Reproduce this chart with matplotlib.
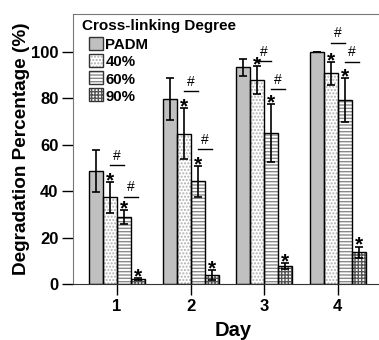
import matplotlib
matplotlib.use("Agg")
import matplotlib.pyplot as plt
import numpy as np
from matplotlib.patches import Rectangle

plt.rcParams['font.family'] = ['Liberation Sans', 'DejaVu Sans']
plt.rcParams['font.weight'] = 'bold'

days = [1, 2, 3, 4]
series = ['PADM', '40%', '60%', '90%']
padm = [48.8, 79.7, 93.5, 100.0]
padm_err = [9.0, 9.0, 3.7, 0.0]
p40 = [37.4, 64.8, 87.9, 90.8]
p40_err = [6.6, 11.0, 6.0, 5.0]
p60 = [28.7, 44.2, 65.0, 79.2]
p60_err = [3.0, 6.5, 12.5, 9.5]
p90 = [2.1, 3.9, 7.6, 13.6]
p90_err = [0.5, 2.1, 1.3, 2.5]
# significance '#' line heights (40% vs 60%, 60% vs 90%)
hash_40_60 = [51.3, 83.2, 96.1, 104.0]
hash_60_90 = [37.6, 58.2, 84.0, 95.8]

values = [padm, p40, p60, p90]
errors = [padm_err, p40_err, p60_err, p90_err]
face = ['#c0c0c0', 'white', 'white', 'white']
hatches = [None, '.....', '-----', '+++++']
hcolors = ['#c0c0c0', '#b0b0b0', '#8a8a8a', '#555555']

W, H = 379, 340
AX_L, AX_B, AX_W, AX_H = 73, 284, 320, 270
fig = plt.figure(figsize=(W/100, H/100), dpi=100)
ax = fig.add_axes([AX_L/W, 1-AX_B/H, AX_W/W, AX_H/H])

def axx(px):
    return (px - AX_L) / AX_W

def axy(py):
    return 1 - (py - (AX_B - AX_H)) / AX_H

w = 0.19
x = np.array(days, dtype=float)
for i in range(4):
    xs = x + (i - 1.5) * w
    ax.bar(xs, values[i], w, color=face[i], hatch=hatches[i],
           edgecolor=hcolors[i], linewidth=0, zorder=2)
    ax.bar(xs, values[i], w, fill=False, edgecolor='black',
           linewidth=1.0, zorder=3)
    ax.errorbar(xs, values[i], yerr=errors[i], fmt='none', ecolor='black',
                elinewidth=1.2, capsize=3, capthick=1.2, zorder=4)
    if i > 0:
        for xx, v, e in zip(xs, values[i], errors[i]):
            ax.text(xx, v + e - 1.8, '*', ha='center', va='baseline',
                    fontsize=15, fontweight='bold', zorder=5)

for j in range(4):
    for (a, b, h) in [(1, 2, hash_40_60[j]), (2, 3, hash_60_90[j])]:
        x0 = x[j] + (a - 1.5) * w
        x1 = x[j] + (b - 1.5) * w
        ax.plot([x0, x1], [h, h], color='black', lw=1.0, zorder=5)
        ax.text((x0 + x1) / 2, h + 1.0, '#', ha='center', va='bottom',
                fontsize=10, fontweight='normal', zorder=5)

ax.set_xlim(0.401, 4.75)
ax.set_ylim(0, 116.4)
ax.set_xticks(days)
ax.set_yticks([0, 20, 40, 60, 80, 100])
ax.tick_params(axis='both', direction='out', length=8, width=1,
               labelsize=12, pad=2.5)
for lab in ax.get_xticklabels() + ax.get_yticklabels():
    lab.set_fontweight('bold')
for s in ['top', 'left']:
    ax.spines[s].set_color('#777777')
ax.spines['bottom'].set_color('#333333')
ax.spines['right'].set_visible(False)
ax.set_ylabel('Degradation Percentage (%)', fontsize=13.7, fontweight='bold',
              labelpad=1)
ax.set_xlabel('Day', fontsize=14.5, fontweight='bold', labelpad=5)

# legend (title + entries)
ax.text(axx(82), axy(30), 'Cross-linking Degree', transform=ax.transAxes,
        ha='left', va='baseline', fontsize=11, fontweight='bold')
for i, name in enumerate(series):
    top = 36.7 + 17.2 * i
    bx, by = axx(89), axy(top + 13)
    bw, bh = 14 / AX_W, 13 / AX_H
    ax.add_patch(Rectangle((bx, by), bw, bh, transform=ax.transAxes,
                           facecolor=face[i], hatch=hatches[i],
                           edgecolor=hcolors[i], linewidth=0, zorder=6,
                           clip_on=False))
    ax.add_patch(Rectangle((bx, by), bw, bh, transform=ax.transAxes,
                           fill=False, edgecolor='#333333', linewidth=1.0,
                           zorder=7, clip_on=False))
    ax.text(axx(105.5), axy(top + 12.6), name, transform=ax.transAxes,
            ha='left', va='baseline', fontsize=10.8, fontweight='bold')

fig.savefig('out.png', dpi=100)
